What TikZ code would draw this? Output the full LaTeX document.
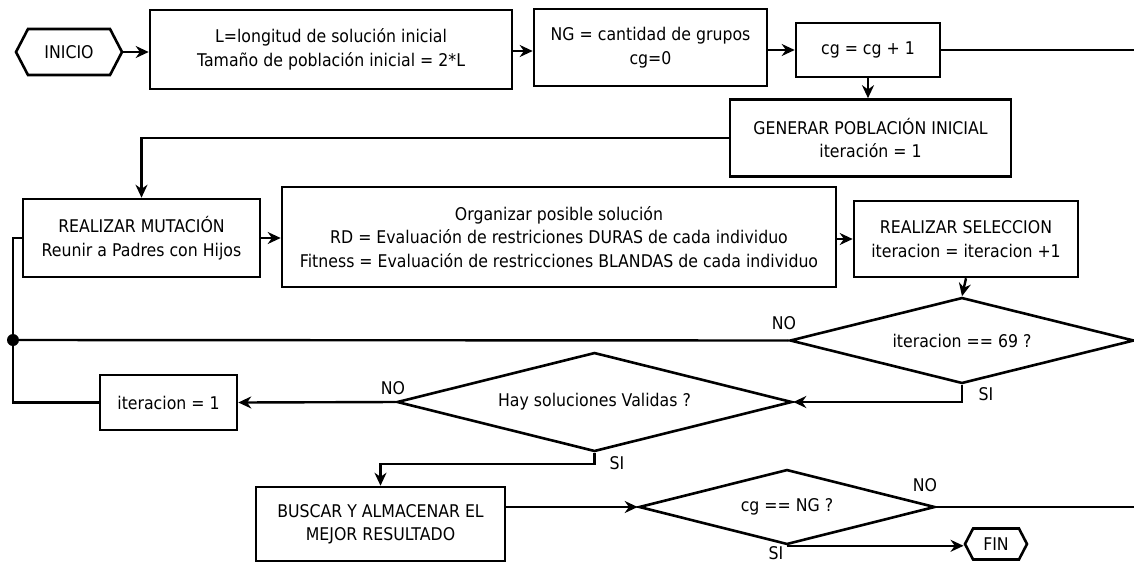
\documentclass[tikz,border=0pt]{standalone}
\usepackage{fontspec}
\setmainfont[FakeStretch=0.9]{DejaVu Sans}
\usetikzlibrary{arrows.meta,shapes.geometric,shapes.symbols}
\begin{document}
\begin{tikzpicture}[x=1pt,y=-1pt,
  proc/.style={draw,line width=2.6pt,inner sep=0pt,align=center,font=\fontsize{17.5}{23.5}\selectfont},
  decis/.style={diamond,draw,line width=2.6pt,inner sep=0pt,shape aspect=4,font=\fontsize{17.5}{23.5}\selectfont},
  term/.style={signal,signal to=west and east,signal pointer angle=125,draw,line width=2.6pt,inner sep=0pt,font=\fontsize{17.5}{23.5}\selectfont},
  flow/.style={line width=2.4pt,-{Stealth[length=13pt,width=12pt]}},
  wire/.style={line width=2.4pt},
  lbl/.style={inner sep=0pt,font=\fontsize{17.5}{20}\selectfont}]
\path[use as bounding box,fill=white] (0,0) rectangle (1134,563);
% top row
\node[term,minimum width=106pt,minimum height=46pt] (ini) at (69,52) {INICIO};
\node[proc,minimum width=362pt,minimum height=79pt] (b1) at (331,49.5) {L=longitud de solución inicial\\Tamaño de población inicial = 2*L};
\node[proc,minimum width=233pt,minimum height=77pt] (b2) at (650.5,47.5) {NG = cantidad de grupos\\cg=0};
\node[proc,minimum width=144pt,minimum height=54pt] (b3) at (868,50) {cg = cg + 1};
\node[proc,minimum width=281pt,minimum height=77pt] (gen) at (870.5,138) {GENERAR POBLACIÓN INICIAL\\iteración = 1};
% middle row
\node[proc,minimum width=237pt,minimum height=78pt] (mut) at (141.5,238) {REALIZAR MUTACIÓN\\Reunir a Padres con Hijos};
\node[proc,minimum width=554pt,minimum height=100pt] (org) at (559,237) {Organizar posible solución\\RD = Evaluación de restriciones DURAS de cada individuo\\Fitness = Evaluación de restricciones BLANDAS de cada individuo};
\node[proc,minimum width=224pt,minimum height=76pt] (sel) at (966,239) {REALIZAR SELECCION\\iteracion = iteracion +1};
\node[decis,minimum width=344pt,minimum height=86pt] (d69) at (962,340.5) {iteracion == 69 ?};
\node[decis,minimum width=395pt,minimum height=99pt] (hay) at (594.5,402) {Hay soluciones Validas ?};
\node[proc,minimum width=137pt,minimum height=55pt] (it1) at (168.5,402.5) {iteracion = 1};
% bottom row
\node[proc,minimum width=249pt,minimum height=74pt] (bus) at (380.5,524) {BUSCAR Y ALMACENAR EL\\MEJOR RESULTADO};
\node[decis,minimum width=296pt,minimum height=75pt] (cg) at (787,507) {cg == NG ?};
\node[term,minimum width=62pt,minimum height=31pt] (fin) at (996,544) {FIN};
\node[circle,fill,inner sep=0pt,minimum size=12pt] (dot) at (13,340) {};
\coordinate (lp) at (13,238);
\coordinate (rt1) at (1134,50);
\coordinate (rt2) at (1134,507);
% connectors
\draw[flow] (ini.east) -- (b1.west |- ini.east);
\draw[flow] (b1.east |- 0,51) -- (b2.west |- 0,51);
\draw[flow] (b2.east |- b3.west) -- (b3.west);
\draw[wire] (b3.east) -- (rt1);
\draw[flow] (b3.south) -- (b3.south |- gen.north);
\draw[flow] (gen.west) -| (mut.north);
\draw[flow] (mut.east) -- (org.west |- mut.east);
\draw[flow] (org.east |- sel.west) -- (sel.west);
\draw[flow] (sel.south) -- (d69.north);
\draw[wire] (d69.west) -- (dot);
\draw[flow] (d69.south) |- (hay.east);
\draw[flow] (hay.west) -- (it1.east);
\draw[wire] (it1.west) -| (lp) -- (mut.west);
\draw[flow] (hay.south) -- ++(0,11) -| (bus.north);
\draw[flow] (bus.east |- cg.west) -- (cg.west);
\draw[wire] (cg.east) -- (rt2);
\draw[flow] (cg.south) -- (cg.south -| fin.west);
% labels
\node[lbl] (no1) at (784,323) {NO};
\node[lbl] (si1) at (986,394) {SI};
\node[lbl] (no2) at (393,388) {NO};
\node[lbl] (si2) at (617,463) {SI};
\node[lbl] (no3) at (925,485) {NO};
\node[lbl] (si3) at (776,553) {SI};
\end{tikzpicture}
\end{document}
